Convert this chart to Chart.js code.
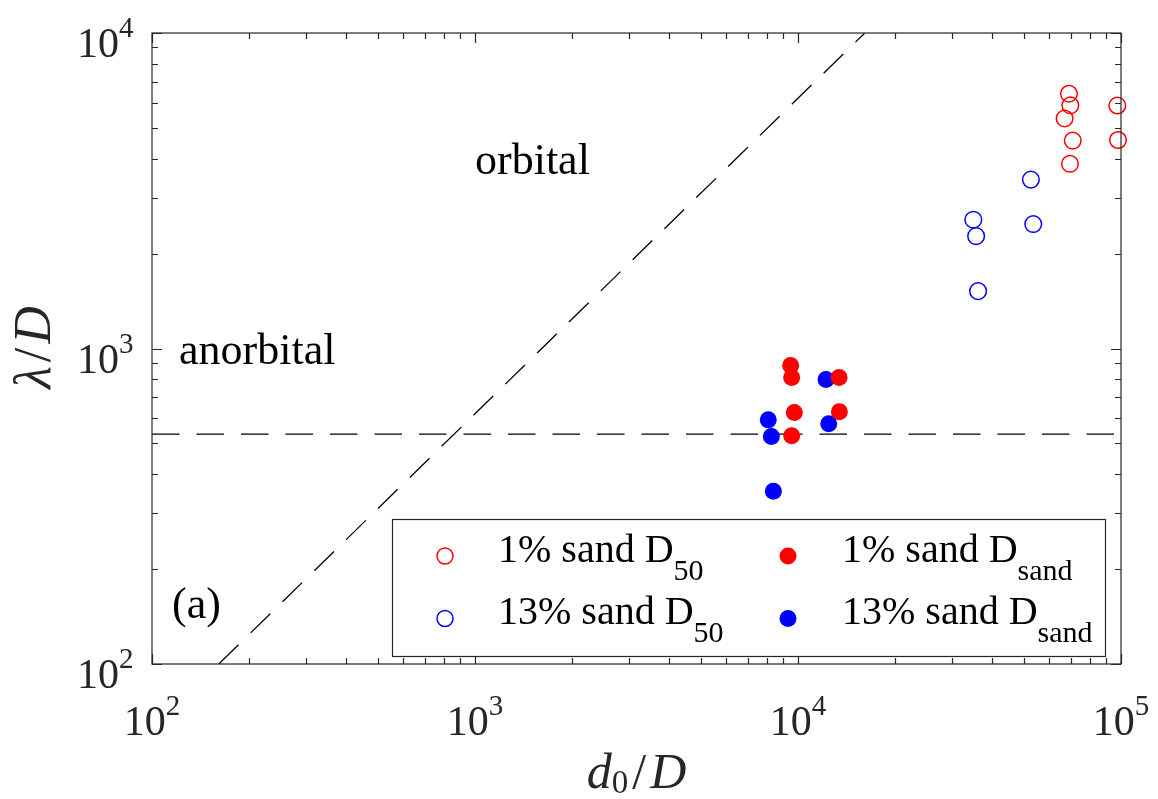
<!DOCTYPE html>
<html>
<head>
<meta charset="utf-8">
<title>Ripple wavelength vs orbital diameter</title>
<script src="https://cdn.jsdelivr.net/npm/chart.js@4/dist/chart.umd.min.js"></script>
<style>
  html, body { margin: 0; padding: 0; background: #ffffff; }
  #wrap { width: 1158px; height: 799px; }
</style>
</head>
<body>
<div id="wrap"><canvas id="chart" width="1158" height="799"></canvas></div>
<script>
// ---- data (d0/D on x, lambda/D on y) ----
const sand1D50X   = [69000, 69700, 66900, 70900, 69500, 97400, 97900];
const sand1D50Y   = [6420, 5900, 5360, 4560, 3850, 5890, 4580];
const sand13D50X  = [52600, 34900, 35600, 53500, 36100];
const sand13D50Y  = [3430, 2560, 2270, 2480, 1520];
const sand1DsandX  = [9490, 9560, 9740, 9560, 13400, 13430];
const sand1DsandY  = [883, 809, 627, 529, 809, 630];
const sand13DsandX = [8090, 8270, 8390, 12210, 12450];
const sand13DsandY = [594, 526, 353, 798, 577];

// regime boundaries
const orbitalLineX = [161, 16100];
const orbitalLineY = [100, 10000];
const anorbitalLevel = 535;

// axis ranges and tick labels (powers of ten)
const xExponents = [2, 3, 4, 5];
const yExponents = [2, 3, 4];

const legendLabels = [
  { text: '1% sand D', sub: '50' },
  { text: '13% sand D', sub: '50' },
  { text: '1% sand D', sub: 'sand' },
  { text: '13% sand D', sub: 'sand' }
];

const RED = '#ff0000';
const BLUE = '#0000ff';
const AXIS = '#262626';
const SERIF = '"Liberation Serif", "Times New Roman", serif';

const pts = (xs, ys) => xs.map((v, i) => ({ x: v, y: ys[i] }));

const datasets = [
  { label: legendLabels[2].text + legendLabels[2].sub, data: pts(sand1DsandX, sand1DsandY),
    pointRadius: 8.5, pointBackgroundColor: RED, pointBorderColor: RED, pointBorderWidth: 0, clip: false, order: 0 },
  { label: legendLabels[3].text + legendLabels[3].sub, data: pts(sand13DsandX, sand13DsandY),
    pointRadius: 8.5, pointBackgroundColor: BLUE, pointBorderColor: BLUE, pointBorderWidth: 0, clip: false, order: 1 },
  { label: legendLabels[0].text + legendLabels[0].sub, data: pts(sand1D50X, sand1D50Y),
    pointRadius: 8.3, pointBackgroundColor: 'rgba(0,0,0,0)', pointBorderColor: RED, pointBorderWidth: 1.5, clip: false, order: 2 },
  { label: legendLabels[1].text + legendLabels[1].sub, data: pts(sand13D50X, sand13D50Y),
    pointRadius: 8.3, pointBackgroundColor: 'rgba(0,0,0,0)', pointBorderColor: BLUE, pointBorderWidth: 1.5, clip: false, order: 3 },
  { label: 'orbital limit', type: 'line', data: pts(orbitalLineX, orbitalLineY), showLine: true,
    borderColor: '#000000', borderWidth: 1.3, borderDash: [27.5, 17], pointRadius: 0, order: 4 },
  { label: 'anorbital limit', type: 'line', data: pts([100, 100000], [anorbitalLevel, anorbitalLevel]), showLine: true,
    borderColor: '#000000', borderWidth: 1.3, borderDash: [27.5, 17], pointRadius: 0, order: 5 }
];

// draws "base" followed by a raised exponent
function drawPower(ctx, base, exp, x, baseY, align, baseSize, expSize, rise) {
  ctx.font = baseSize + 'px ' + SERIF;
  const wb = ctx.measureText(base).width;
  ctx.font = expSize + 'px ' + SERIF;
  const we = ctx.measureText(exp).width;
  const total = wb + we;
  let start = x;
  if (align === 'center') start = x - total / 2;
  else if (align === 'right') start = x - total;
  ctx.textAlign = 'left';
  ctx.textBaseline = 'alphabetic';
  ctx.font = baseSize + 'px ' + SERIF;
  ctx.fillText(base, start, baseY);
  ctx.font = expSize + 'px ' + SERIF;
  ctx.fillText(exp, start + wb, baseY - rise);
}

const framePlugin = {
  id: 'frame',
  afterDatasetsDraw(chart) {
    const { ctx, chartArea: a, scales: { x, y } } = chart;
    ctx.save();
    ctx.strokeStyle = AXIS;
    ctx.lineWidth = 1.2;
    ctx.strokeRect(a.left, a.top, a.right - a.left, a.bottom - a.top);

    ctx.beginPath();
    // x ticks (bottom and top, pointing inward)
    for (let e = xExponents[0]; e <= xExponents[xExponents.length - 1]; e++) {
      for (let k = 1; k <= 9; k++) {
        const v = k * Math.pow(10, e);
        if (v > x.max * 1.0001) break;
        const px = Math.round(x.getPixelForValue(v)) + 0.5;
        const len = k === 1 ? 10 : 6;
        ctx.moveTo(px, a.bottom); ctx.lineTo(px, a.bottom - len);
        ctx.moveTo(px, a.top); ctx.lineTo(px, a.top + len);
      }
    }
    // y ticks (left and right, pointing inward)
    for (let e = yExponents[0]; e <= yExponents[yExponents.length - 1]; e++) {
      for (let k = 1; k <= 9; k++) {
        const v = k * Math.pow(10, e);
        if (v > y.max * 1.0001) break;
        const py = Math.round(y.getPixelForValue(v)) + 0.5;
        const len = k === 1 ? 10 : 6;
        ctx.moveTo(a.left, py); ctx.lineTo(a.left + len, py);
        ctx.moveTo(a.right, py); ctx.lineTo(a.right - len, py);
      }
    }
    ctx.stroke();
    ctx.restore();
  },
  afterDraw(chart) {
    const { ctx, chartArea: a, scales: { x, y } } = chart;
    ctx.save();

    // tick labels
    ctx.fillStyle = AXIS;
    xExponents.forEach(e => {
      const px = x.getPixelForValue(Math.pow(10, e));
      drawPower(ctx, '10', String(e), px, a.bottom + 71, 'center', 42, 29, 20);
    });
    yExponents.forEach(e => {
      const py = y.getPixelForValue(Math.pow(10, e));
      drawPower(ctx, '10', String(e), a.left - 18.5, py + 24, 'right', 42, 29, 20);
    });

    // axis titles
    ctx.fillStyle = AXIS;
    ctx.textBaseline = 'alphabetic';
    ctx.textAlign = 'left';
    {
      // d_0 / D
      const big = 'italic 50px ' + SERIF, up = '50px ' + SERIF, sub = '33px ' + SERIF;
      ctx.font = big; const wd = ctx.measureText('d').width; const wD = ctx.measureText('D').width;
      ctx.font = sub; const w0 = ctx.measureText('0').width;
      ctx.font = up; const ws = ctx.measureText('/').width;
      const gap = 4;
      const total = wd + w0 + gap + ws + gap + wD;
      let cx = (a.left + a.right) / 2 - total / 2;
      const base = 788;
      ctx.font = big; ctx.fillText('d', cx, base); cx += wd;
      ctx.font = sub; ctx.fillText('0', cx, base + 5); cx += w0 + gap;
      ctx.font = up; ctx.fillText('/', cx, base); cx += ws + gap;
      ctx.font = big; ctx.fillText('D', cx, base);
    }
    {
      // lambda / D, rotated
      const big = 'italic 52px ' + SERIF, up = '52px ' + SERIF;
      ctx.font = big; const wl = ctx.measureText('\u03bb').width; const wD = ctx.measureText('D').width;
      ctx.font = up; const ws = ctx.measureText('/').width;
      const gap = 4;
      const total = wl + gap + ws + gap + wD;
      ctx.translate(50, (a.top + a.bottom) / 2 - 1);
      ctx.rotate(-Math.PI / 2);
      let cx = -total / 2;
      ctx.font = big; ctx.fillText('\u03bb', cx, 0); cx += wl + gap;
      ctx.font = up; ctx.fillText('/', cx, 0); cx += ws + gap;
      ctx.font = big; ctx.fillText('D', cx, 0);
      ctx.setTransform(1, 0, 0, 1, 0, 0);
    }

    // regime annotations
    ctx.fillStyle = '#000000';
    ctx.font = '44px ' + SERIF;
    ctx.textAlign = 'left';
    ctx.fillText('orbital', 475, 174);
    ctx.fillText('anorbital', 179, 364);
    ctx.fillText('(a)', 172, 618);

    // legend box
    const lx = 392, ly = 519, lw = 713, lh = 137;
    ctx.fillStyle = '#ffffff';
    ctx.fillRect(lx, ly, lw, lh);
    ctx.strokeStyle = AXIS;
    ctx.lineWidth = 1.2;
    ctx.strokeRect(lx + 0.5, ly + 0.5, lw, lh);

    const cols = [{ mx: 445, tx: 498 }, { mx: 788, tx: 842 }];
    const rows = [{ my: 556, ty: 562 }, { my: 618.5, ty: 624 }];
    const styles = [
      { color: RED, filled: false }, { color: BLUE, filled: false },
      { color: RED, filled: true }, { color: BLUE, filled: true }
    ];
    legendLabels.forEach((lab, i) => {
      const c = cols[Math.floor(i / 2)], r = rows[i % 2], s = styles[i];
      ctx.beginPath();
      if (s.filled) {
        ctx.arc(c.mx, r.my, 8.5, 0, Math.PI * 2);
        ctx.fillStyle = s.color; ctx.fill();
      } else {
        ctx.arc(c.mx, r.my, 8, 0, Math.PI * 2);
        ctx.strokeStyle = s.color; ctx.lineWidth = 1.5; ctx.stroke();
      }
      ctx.fillStyle = '#000000';
      ctx.font = '40px ' + SERIF;
      ctx.fillText(lab.text, c.tx, r.ty);
      const w = ctx.measureText(lab.text).width;
      ctx.font = '30px ' + SERIF;
      ctx.fillText(lab.sub, c.tx + w, r.ty + 18);
    });

    ctx.restore();
  }
};

new Chart(document.getElementById('chart').getContext('2d'), {
  type: 'scatter',
  data: { datasets },
  options: {
    responsive: false,
    animation: false,
    devicePixelRatio: 1,
    layout: { padding: { left: 152, right: 37, top: 33, bottom: 135 } },
    plugins: { legend: { display: false }, tooltip: { enabled: false } },
    scales: {
      x: { type: 'logarithmic', min: 100, max: 100000, display: false },
      y: { type: 'logarithmic', min: 100, max: 10000, display: false }
    }
  },
  plugins: [framePlugin]
});
</script>
</body>
</html>
